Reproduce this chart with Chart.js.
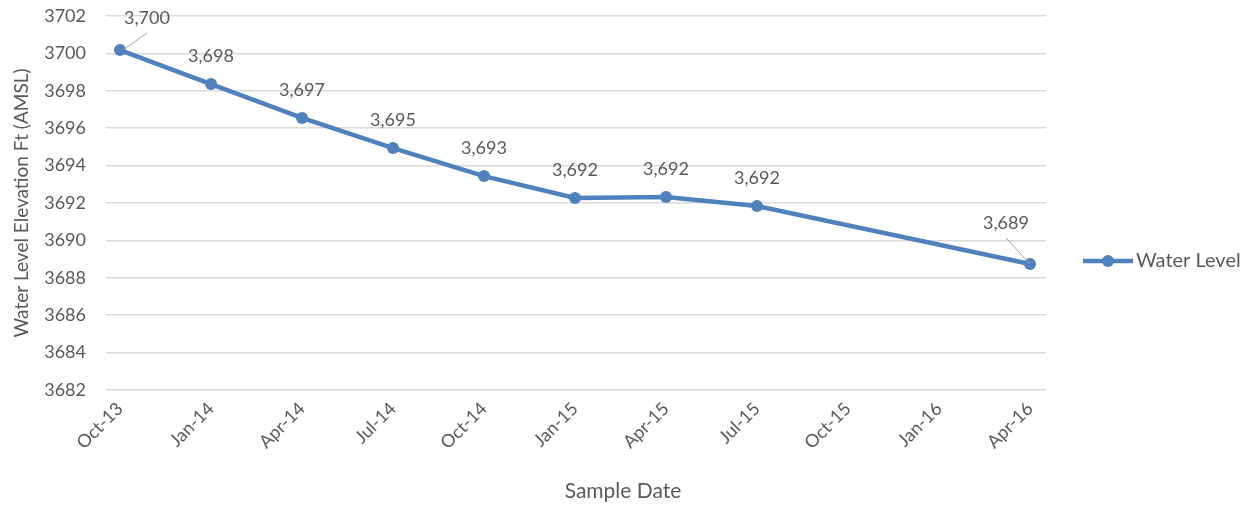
<!DOCTYPE html>
<html>
<head>
<meta charset="utf-8">
<script src="https://cdn.jsdelivr.net/npm/chart.js@4/dist/chart.umd.min.js"></script>
<style>
  html, body { margin: 0; padding: 0; background: #fff; }
  #wrap { width: 1252px; height: 510px; position: relative; }
</style>
</head>
<body>
<div id="wrap"><canvas id="levelChart"></canvas></div>
<script>
// quarterly sample dates on the x axis
const sampleDates = ["Oct-13", "Jan-14", "Apr-14", "Jul-14", "Oct-14", "Jan-15", "Apr-15", "Jul-15", "Oct-15", "Jan-16", "Apr-16"];
// water level (ft AMSL), null where no sample was taken
const waterLevel = [3700.18, 3698.36, 3696.55, 3694.94, 3693.44, 3692.27, 3692.32, 3691.84, null, null, 3688.74];
const yTicks = [3682, 3684, 3686, 3688, 3690, 3692, 3694, 3696, 3698, 3700, 3702];

const textColor = '#595959';
const lineColor = '#4F81BD';
const fontFamily = "Lato, 'Open Sans', sans-serif";

// label offsets from the point (px), the first and last ones get a leader line
const labelOffsets = {
    0: { dx: 27, dy: -32, leader: true },
    10: { dx: -24, dy: -41, leader: true }
};

const dataLabels = {
    id: 'dataLabels',
    afterDatasetsDraw(chart) {
        const ctx = chart.ctx;
        const meta = chart.getDatasetMeta(0);
        ctx.save();
        ctx.font = '18px ' + fontFamily;
        ctx.fillStyle = textColor;
        ctx.textAlign = 'center';
        ctx.textBaseline = 'middle';
        meta.data.forEach((pt, i) => {
            const v = waterLevel[i];
            if (v === null || v === undefined) return;
            const off = labelOffsets[i] || { dx: 0, dy: -28 };
            const tx = pt.x + off.dx, ty = pt.y + off.dy;
            if (off.leader) {
                ctx.strokeStyle = '#A6A6A6';
                ctx.lineWidth = 1;
                ctx.beginPath();
                ctx.moveTo(pt.x + (off.dx > 0 ? 3 : 0), pt.y);
                ctx.lineTo(tx, ty + 15);
                ctx.stroke();
            }
            ctx.fillText(Math.round(v).toLocaleString('en-US'), tx, ty);
        });
        ctx.restore();
    }
};

const extras = {
    id: 'extras',
    afterDraw(chart) {
        const ctx = chart.ctx;
        const area = chart.chartArea;
        ctx.save();
        // x axis title
        ctx.font = '21px ' + fontFamily;
        ctx.fillStyle = textColor;
        ctx.textAlign = 'center';
        ctx.textBaseline = 'middle';
        ctx.fillText('Sample Date', 623, 491);
        // legend
        ctx.font = '20px ' + fontFamily;
        const ly = 261;
        const lx = area.right + 37;
        ctx.strokeStyle = lineColor;
        ctx.lineWidth = 4.5;
        ctx.beginPath();
        ctx.moveTo(lx, ly);
        ctx.lineTo(lx + 50, ly);
        ctx.stroke();
        ctx.fillStyle = lineColor;
        ctx.beginPath();
        ctx.arc(lx + 25, ly, 6, 0, Math.PI * 2);
        ctx.fill();
        ctx.fillStyle = textColor;
        ctx.textAlign = 'left';
        ctx.fillText('Water Level', lx + 53, ly);
        ctx.restore();
    }
};

function noPad(scale) {
    scale.paddingTop = 0;
    scale.paddingBottom = 0;
    scale.paddingLeft = 0;
    scale.paddingRight = 0;
}

const levelChart = new Chart(document.getElementById('levelChart'), {
    type: 'line',
    data: {
        datasets: [{
            label: 'Water Level',
            data: sampleDates.map((d, i) => ({ x: i, y: waterLevel[i] })),
            borderColor: lineColor,
            backgroundColor: lineColor,
            borderWidth: 4.5,
            pointRadius: 6,
            pointHoverRadius: 6,
            pointBackgroundColor: lineColor,
            pointBorderWidth: 0,
            spanGaps: true,
            tension: 0
        }]
    },
    options: {
        responsive: true,
        maintainAspectRatio: false,
        animation: false,
        layout: { padding: { left: 0, right: 206, top: 16, bottom: 0 } },
        plugins: {
            legend: { display: false },
            tooltip: { enabled: false }
        },
        scales: {
            x: {
                type: 'linear',
                min: -0.154,
                max: 10.176,
                afterBuildTicks: (scale) => { scale.ticks = sampleDates.map((d, i) => ({ value: i })); },
                afterFit: (scale) => { scale.height = 120; noPad(scale); },
                grid: { display: false, drawTicks: false },
                border: { display: false },
                ticks: {
                    color: textColor,
                    font: { family: fontFamily, size: 18 },
                    minRotation: 45,
                    maxRotation: 45,
                    padding: 8,
                    callback: (v) => sampleDates[v]
                }
            },
            y: {
                min: 3682,
                max: 3702,
                afterBuildTicks: (scale) => { scale.ticks = yTicks.map(v => ({ value: v })); },
                afterFit: (scale) => { scale.width = 106; noPad(scale); },
                grid: { color: '#D9D9D9', lineWidth: 1.5, drawTicks: false },
                border: { display: false },
                ticks: {
                    color: textColor,
                    font: { family: fontFamily, size: 18 },
                    padding: 20,
                    callback: (v) => String(v)
                },
                title: {
                    display: true,
                    text: 'Water Level Elevation Ft (AMSL)',
                    color: textColor,
                    font: { family: fontFamily, size: 19 },
                    padding: { top: 10, bottom: 0 }
                }
            }
        }
    },
    plugins: [dataLabels, extras]
});
</script>
</body>
</html>
